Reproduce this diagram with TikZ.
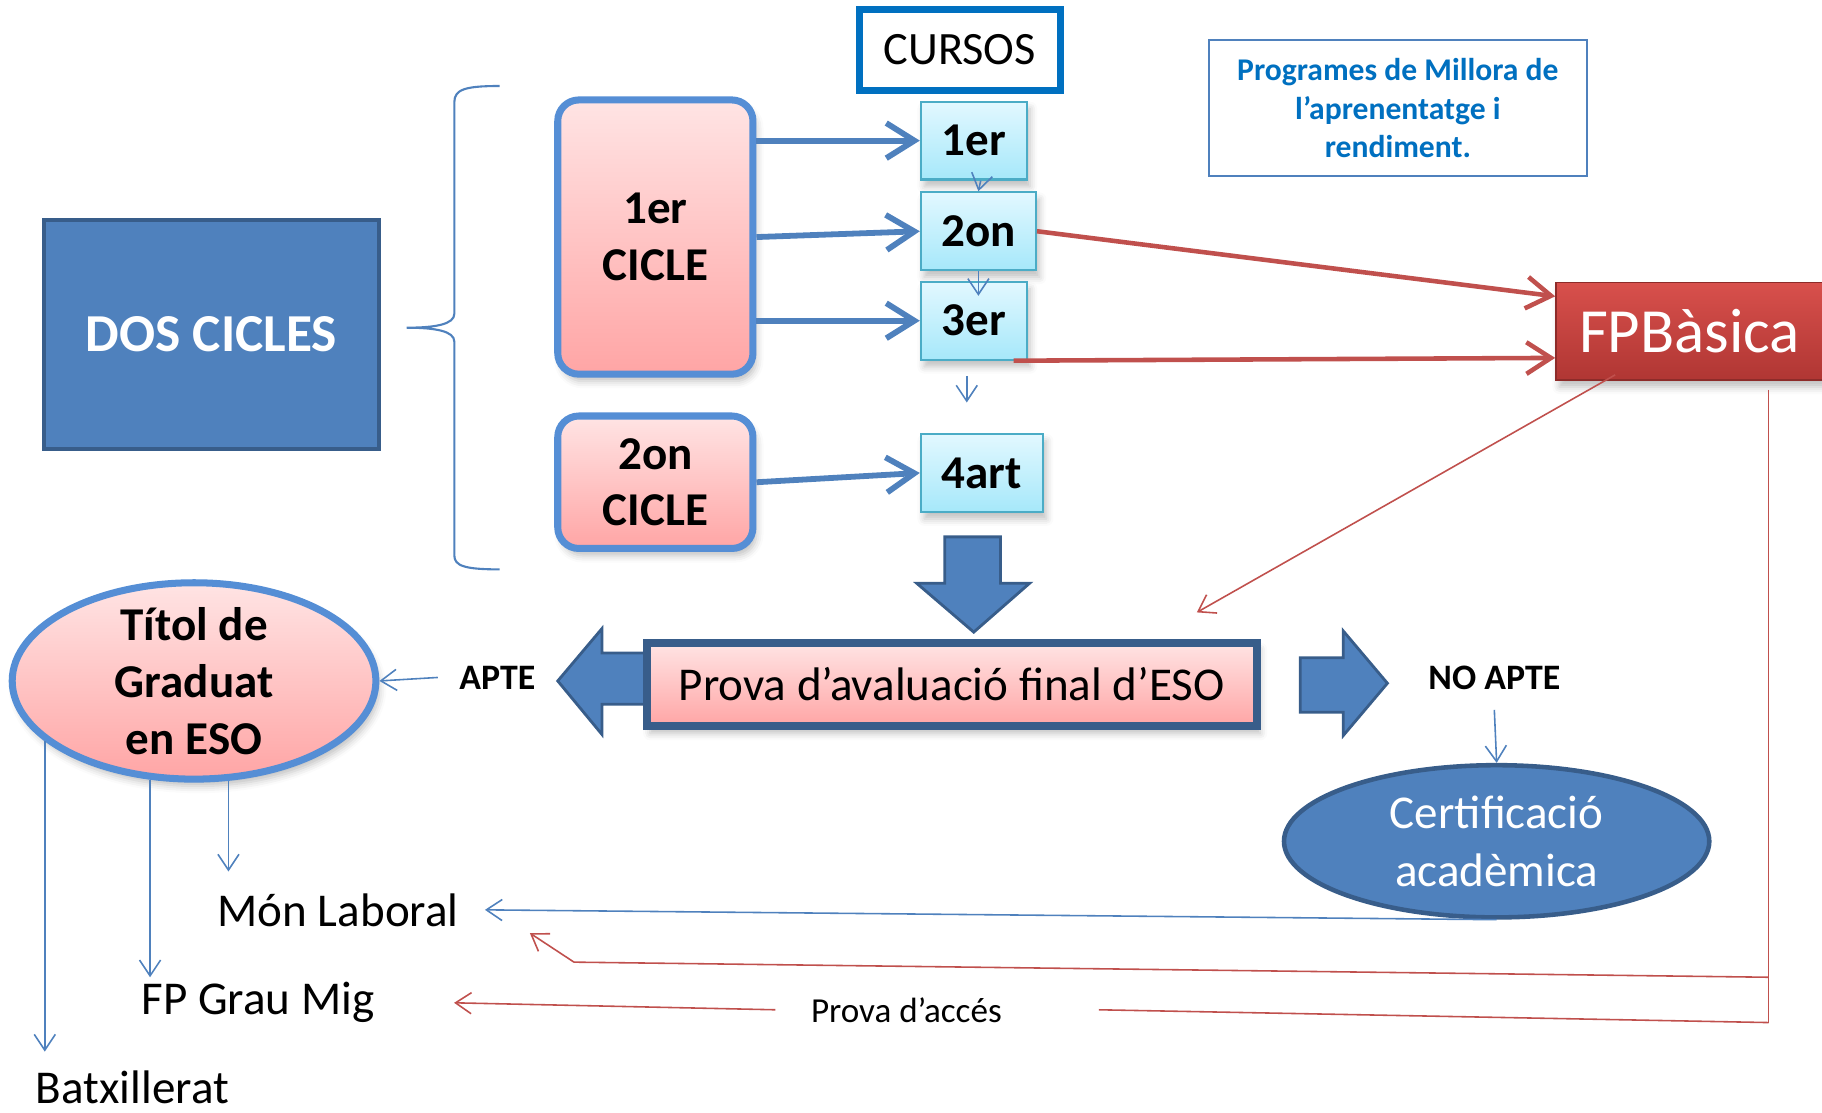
\documentclass[tikz,border=0pt]{standalone}
\usepackage{fontspec}
\setmainfont{Carlito}
\usetikzlibrary{arrows.meta,shapes.geometric,shadows.blur}

\newcommand{\pxu}{0.01162cm}

\definecolor{accblue}{HTML}{4F81BD}
\definecolor{darkblue}{HTML}{385D8A}
\definecolor{boxblue}{HTML}{558ED5}
\definecolor{cursblue}{HTML}{0070C0}
\definecolor{tealb}{HTML}{4BACC6}
\definecolor{cyantop}{HTML}{E2F8FF}
\definecolor{cyanbot}{HTML}{A6E8FA}
\definecolor{pinktop}{HTML}{FFE4E4}
\definecolor{pinkbot}{HTML}{FFA5A5}
\definecolor{redline}{HTML}{C0504D}
\definecolor{redtop}{HTML}{D8504C}
\definecolor{redbot}{HTML}{B03633}

\tikzset{
  shad/.style={blur shadow={shadow xshift=1pt,shadow yshift=-2pt,shadow blur radius=2pt,shadow opacity=25}},
  dosbox/.style={draw=darkblue,line width=1.3pt,fill=accblue,text=white,
    font=\fontsize{15.2}{18}\selectfont\bfseries,minimum width=288*\pxu,minimum height=197*\pxu},
  cicle/.style={draw=boxblue,line width=2pt,rounded corners=6pt,top color=pinktop,bottom color=pinkbot,
    minimum width=168*\pxu,align=center,font=\fontsize{13.4}{16.2}\selectfont\bfseries,shad},
  curs/.style={draw=tealb,line width=0.6pt,top color=cyantop,bottom color=cyanbot,
    minimum height=67*\pxu,font=\fontsize{13.4}{16.2}\selectfont\bfseries,shad},
  cursbox/.style={draw=cursblue,line width=2pt,fill=white,minimum width=173*\pxu,minimum height=69*\pxu,
    font=\fontsize{13.2}{16}\selectfont},
  millora/.style={draw=accblue,line width=0.5pt,fill=white,minimum width=325*\pxu,minimum height=117*\pxu,
    align=center,text=cursblue,font=\fontsize{9}{10.9}\selectfont\bfseries},
  fpbox/.style={draw=redbot!80!black,line width=0.4pt,top color=redtop,bottom color=redbot,text=white,
    minimum width=230*\pxu,minimum height=84*\pxu,font=\fontsize{17.9}{21}\selectfont,shad},
  provabox/.style={draw=darkblue,line width=2.3pt,top color=pinktop,bottom color=pinkbot,
    minimum width=525*\pxu,minimum height=72*\pxu,font=\fontsize{13.4}{16}\selectfont,shad},
  titolell/.style={ellipse,draw=boxblue,line width=2pt,top color=pinktop,bottom color=pinkbot,
    minimum width=313*\pxu,minimum height=169*\pxu,inner sep=0pt,shad},
  certell/.style={ellipse,draw=darkblue,line width=1.3pt,fill=accblue,text=white,align=center,
    minimum width=366*\pxu,minimum height=131*\pxu,inner sep=0pt,font=\fontsize{13.4}{16.5}\selectfont},
  bigtxt/.style={inner sep=0pt,align=center,font=\fontsize{13.4}{16.2}\selectfont},
  smalltxt/.style={inner sep=0pt,font=\fontsize{10.2}{12}\selectfont\bfseries},
  blockarr/.style={draw=darkblue,line width=0.8pt,fill=accblue,line join=miter},
  brace/.style={draw=accblue,line width=0.6pt},
  thickarr/.style={draw=accblue,line width=1.65pt,-{Straight Barb[length=8pt,width=10pt]}},
  redthick/.style={draw=redline,line width=1.3pt,-{Straight Barb[length=7pt,width=9pt]}},
  thinarr/.style={draw=accblue,line width=0.45pt,-{Straight Barb[length=4.5pt,width=6pt]}},
  redthin/.style={draw=redline,line width=0.45pt},
  redarr/.style={redthin,-{Straight Barb[length=4.5pt,width=6pt]}}
}

\begin{document}
\begin{tikzpicture}[x=\pxu,y=-\pxu]
  \useasboundingbox (0,0) rectangle (1568,957);

  % Two cycles and the brace
  \node[dosbox] (dos) at (182,288) {DOS CICLES};
  \draw[brace] (430,74) .. controls (400,74) and (391,77) .. (391,88) -- (391,270)
    .. controls (391,279) and (375,282) .. (350,282)
    .. controls (375,282) and (391,285) .. (391,294) -- (391,478)
    .. controls (391,487) and (400,490) .. (430,490);

  \node[cicle,minimum height=236*\pxu] (cic1) at (564,204) {1er\\CICLE};
  \node[cicle,minimum height=114*\pxu] (cic2) at (564,415) {2on\\CICLE};

  % Courses
  \node[cursbox] (cursos) at (826,43) {CURSOS};
  \node[curs,minimum width=91*\pxu] (c1er) at (838,121) {1er};
  \node[curs,minimum width=99*\pxu] (c2on) at (842,199) {2on};
  \node[curs,minimum width=91*\pxu] (c3er) at (838,276) {3er};
  \node[curs,minimum width=105*\pxu] (c4art) at (845,407) {4art};

  \draw[thickarr] (cic1.east |- c1er.west) -- (c1er.west);
  \draw[thickarr] (cic1.east) -- (c2on.west);
  \draw[thickarr] (cic1.east |- c3er.west) -- (c3er.west);
  \draw[thickarr] (cic2.east) -- (c4art.west);

  \draw[thinarr] ([xshift=6*\pxu]c1er.south) -- (c2on.north);
  \draw[thinarr] (c2on.south) -- ([xshift=4*\pxu,yshift=-13*\pxu]c3er.north);
  \draw[thinarr] ([xshift=-6*\pxu,yshift=-13*\pxu]c3er.south) -- ++(0,23);

  % Improvement programmes and FP basic
  \node[millora] (pmar) at (1203,93) {Programes de Millora de\\l’aprenentatge i\\rendiment.};
  \node[fpbox] (fpb) at (1454,285) {FPBàsica};

  \draw[redthick] (c2on.east) -- ([yshift=30*\pxu]fpb.west);
  \draw[redthick] ([xshift=-12*\pxu]c3er.south east) -- ([yshift=-23*\pxu]fpb.west);

  % Final test
  \draw[blockarr] (813,462) -- (861,462) -- (861,502) -- (886,502) -- (838,544)
    -- (789,502) -- (813,502) -- cycle;
  \draw[blockarr] (562,562) -- (518,562) -- (518,541) -- (480,586) -- (518,632)
    -- (518,606) -- (562,606) -- cycle;
  \draw[blockarr] (1119,566) -- (1156,566) -- (1156,543) -- (1194,588) -- (1156,633)
    -- (1156,613) -- (1119,613) -- cycle;
  \node[provabox] (prova) at (819,589) {Prova d’avaluació final d’ESO};

  \coordinate (fptip) at (1030,527);
  \draw[redarr] ([xshift=-64*\pxu,yshift=5*\pxu]fpb.south) -- (fptip);

  % Results
  \node[smalltxt] (apte) at (428,583) {APTE};
  \node[smalltxt] (noapte) at (1286,583) {NO APTE};
  \node[titolell] (titol) at (167,586) {};
  \node[bigtxt,font=\fontsize{13.4}{16.2}\selectfont\bfseries] (titoltxt) at (titol) {Títol de\\Graduat\\en ESO};
  \node[certell] (cert) at (1288,724) {Certificació\\acadèmica};

  \draw[thinarr] ([xshift=-18*\pxu]apte.west) -- (titol.east);
  \draw[thinarr] ([yshift=-17*\pxu]noapte.south) -- (cert.north);

  % Ways out
  \node[bigtxt] (laboral) at (291,783) {Món Laboral};
  \node[bigtxt] (fpmig) at (222,863) {FP Grau Mig};
  \node[bigtxt] (batx) at (114,936) {Batxillerat};
  \node[inner sep=0pt,font=\fontsize{10}{12}\selectfont] (acces) at (780,869) {Prova d’accés};

  \draw[thinarr] (titol.289) -- (titol.289 |- 0,750);
  \draw[thinarr] (titol.246) -- (titol.246 |- 0,841);
  \draw[thinarr] (titol.202) -- (titol.202 |- 0,905);
  \draw[thinarr] (cert.south) -- ([xshift=22*\pxu]laboral.east);

  % Connect FP basic to the ways out
  \coordinate (rmid) at (1522,841);
  \coordinate (rbot) at (1522,880);
  \coordinate (rbend) at (494,828);
  \coordinate (rtip) at (456,803);
  \draw[redthin] ([xshift=68*\pxu,yshift=-8*\pxu]fpb.south) -- (rbot);
  \draw[redarr] (rmid) -- (rbend) -- (rtip);
  \draw[redthin] (rbot) -- ([xshift=83*\pxu]acces.east);
  \draw[redarr] ([xshift=-30*\pxu]acces.west) -- ([xshift=68*\pxu]fpmig.east);

\end{tikzpicture}
\end{document}
